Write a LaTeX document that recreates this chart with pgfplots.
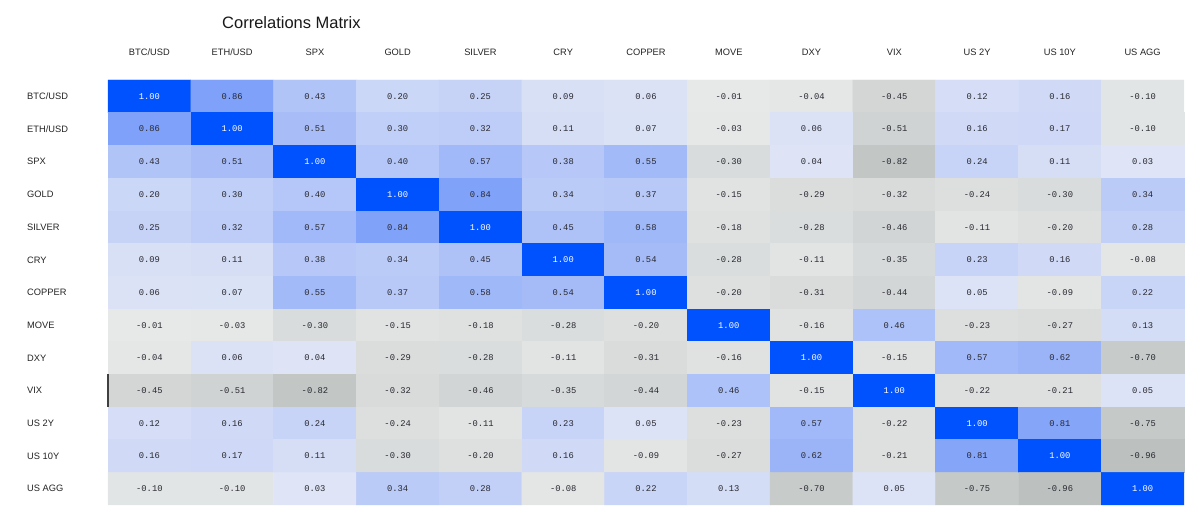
\documentclass[border=0pt]{standalone}
\usepackage{pgfplots}
\usepackage{pgfplotstable}
\pgfplotsset{compat=1.18}
\usepackage{fontspec}
\setmainfont{Liberation Sans}
\newfontfamily\cellfont{Liberation Mono}
\definecolor{txtd}{RGB}{40,40,48}
\definecolor{txtw}{RGB}{255,255,255}
\definecolor{lbl}{RGB}{35,35,35}

\pgfplotstableread[row sep=\\]{
x y v\\
0 0 1.00\\ 1 0 0.86\\ 2 0 0.43\\ 3 0 0.20\\ 4 0 0.25\\ 5 0 0.09\\ 6 0 0.06\\ 7 0 -0.01\\ 8 0 -0.04\\ 9 0 -0.45\\ 10 0 0.12\\ 11 0 0.16\\ 12 0 -0.10\\
0 1 0.86\\ 1 1 1.00\\ 2 1 0.51\\ 3 1 0.30\\ 4 1 0.32\\ 5 1 0.11\\ 6 1 0.07\\ 7 1 -0.03\\ 8 1 0.06\\ 9 1 -0.51\\ 10 1 0.16\\ 11 1 0.17\\ 12 1 -0.10\\
0 2 0.43\\ 1 2 0.51\\ 2 2 1.00\\ 3 2 0.40\\ 4 2 0.57\\ 5 2 0.38\\ 6 2 0.55\\ 7 2 -0.30\\ 8 2 0.04\\ 9 2 -0.82\\ 10 2 0.24\\ 11 2 0.11\\ 12 2 0.03\\
0 3 0.20\\ 1 3 0.30\\ 2 3 0.40\\ 3 3 1.00\\ 4 3 0.84\\ 5 3 0.34\\ 6 3 0.37\\ 7 3 -0.15\\ 8 3 -0.29\\ 9 3 -0.32\\ 10 3 -0.24\\ 11 3 -0.30\\ 12 3 0.34\\
0 4 0.25\\ 1 4 0.32\\ 2 4 0.57\\ 3 4 0.84\\ 4 4 1.00\\ 5 4 0.45\\ 6 4 0.58\\ 7 4 -0.18\\ 8 4 -0.28\\ 9 4 -0.46\\ 10 4 -0.11\\ 11 4 -0.20\\ 12 4 0.28\\
0 5 0.09\\ 1 5 0.11\\ 2 5 0.38\\ 3 5 0.34\\ 4 5 0.45\\ 5 5 1.00\\ 6 5 0.54\\ 7 5 -0.28\\ 8 5 -0.11\\ 9 5 -0.35\\ 10 5 0.23\\ 11 5 0.16\\ 12 5 -0.08\\
0 6 0.06\\ 1 6 0.07\\ 2 6 0.55\\ 3 6 0.37\\ 4 6 0.58\\ 5 6 0.54\\ 6 6 1.00\\ 7 6 -0.20\\ 8 6 -0.31\\ 9 6 -0.44\\ 10 6 0.05\\ 11 6 -0.09\\ 12 6 0.22\\
0 7 -0.01\\ 1 7 -0.03\\ 2 7 -0.30\\ 3 7 -0.15\\ 4 7 -0.18\\ 5 7 -0.28\\ 6 7 -0.20\\ 7 7 1.00\\ 8 7 -0.16\\ 9 7 0.46\\ 10 7 -0.23\\ 11 7 -0.27\\ 12 7 0.13\\
0 8 -0.04\\ 1 8 0.06\\ 2 8 0.04\\ 3 8 -0.29\\ 4 8 -0.28\\ 5 8 -0.11\\ 6 8 -0.31\\ 7 8 -0.16\\ 8 8 1.00\\ 9 8 -0.15\\ 10 8 0.57\\ 11 8 0.62\\ 12 8 -0.70\\
0 9 -0.45\\ 1 9 -0.51\\ 2 9 -0.82\\ 3 9 -0.32\\ 4 9 -0.46\\ 5 9 -0.35\\ 6 9 -0.44\\ 7 9 0.46\\ 8 9 -0.15\\ 9 9 1.00\\ 10 9 -0.22\\ 11 9 -0.21\\ 12 9 0.05\\
0 10 0.12\\ 1 10 0.16\\ 2 10 0.24\\ 3 10 -0.24\\ 4 10 -0.11\\ 5 10 0.23\\ 6 10 0.05\\ 7 10 -0.23\\ 8 10 0.57\\ 9 10 -0.22\\ 10 10 1.00\\ 11 10 0.81\\ 12 10 -0.75\\
0 11 0.16\\ 1 11 0.17\\ 2 11 0.11\\ 3 11 -0.30\\ 4 11 -0.20\\ 5 11 0.16\\ 6 11 -0.09\\ 7 11 -0.27\\ 8 11 0.62\\ 9 11 -0.21\\ 10 11 0.81\\ 11 11 1.00\\ 12 11 -0.96\\
0 12 -0.10\\ 1 12 -0.10\\ 2 12 0.03\\ 3 12 0.34\\ 4 12 0.28\\ 5 12 -0.08\\ 6 12 0.22\\ 7 12 0.13\\ 8 12 -0.70\\ 9 12 0.05\\ 10 12 -0.75\\ 11 12 -0.96\\ 12 12 1.00\\
}\corrtable

\begin{document}
\begin{tikzpicture}[x=1pt,y=1pt]
\useasboundingbox (0,0) rectangle (1200,518);
\node[font=\fontsize{16.5}{19}\selectfont, text=black!90, anchor=west, inner sep=0pt] at (222,495) {Correlations Matrix};
\begin{axis}[
  at={(108pt,13pt)}, anchor=south west,
  scale only axis, width=1076pt, height=425pt,
  xmin=-0.5, xmax=12.5, ymin=-0.5, ymax=12.5,
  y dir=reverse,
  clip=false,
  axis line style={draw=none},
  major tick length=0pt,
  xtick={0,...,12}, ytick={0,...,12},
  xticklabels={BTC/USD,ETH/USD,SPX,GOLD,SILVER,CRY,COPPER,MOVE,DXY,VIX,US 2Y,US 10Y,US AGG},
  yticklabels={BTC/USD,ETH/USD,SPX,GOLD,SILVER,CRY,COPPER,MOVE,DXY,VIX,US 2Y,US 10Y,US AGG},
  xticklabel pos=upper,
  xticklabel style={font=\fontsize{9.3}{11}\selectfont, text=lbl, anchor=center, yshift=28pt},
  yticklabel style={font=\fontsize{9.3}{11}\selectfont, text=lbl, anchor=west, inner sep=0pt, xshift=-81pt},
  colormap={corr}{rgb255(0pt)=(186,190,189) rgb255(100pt)=(231,233,233) rgb255(100.5pt)=(226,231,246) rgb255(199pt)=(112,150,250) rgb255(200pt)=(0,82,255)},
  point meta min=-1, point meta max=1,
]
\addplot[matrix plot*, draw=none, mesh/cols=13, point meta=explicit] table[x=x, y=y, meta=v] {\corrtable};
\addplot[only marks, mark=none, point meta=explicit symbolic,
  nodes near coords={\ifnum\strcmp{\pgfplotspointmeta}{1.00}=0 \color{txtw}\else\color{txtd}\fi\pgfplotspointmeta},
  nodes near coords style={anchor=center, font=\cellfont\fontsize{8.8}{10}\selectfont}]
  table[x=x, y=y, meta=v] {\corrtable};
\draw[black!75, line width=1.3pt] (axis cs:-0.5,8.5) -- (axis cs:-0.5,9.5);
\end{axis}
\end{tikzpicture}
\end{document}
